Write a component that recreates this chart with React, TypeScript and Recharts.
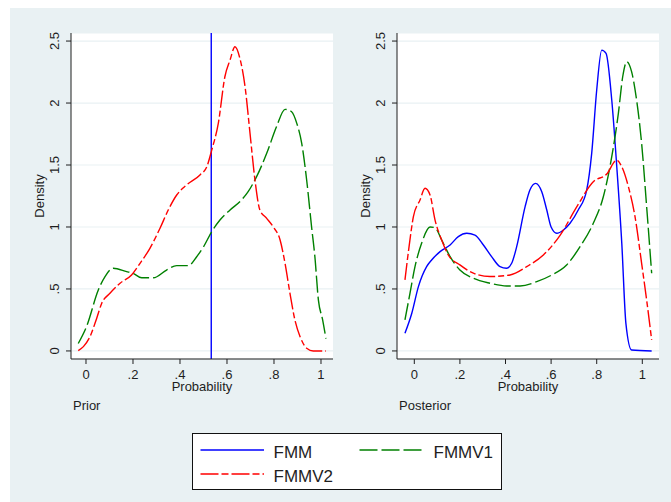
import { LineChart, Line, XAxis, YAxis, CartesianGrid, ReferenceLine } from 'recharts'

// kernel density estimates: [probability, density]
const priorFmmv1: [number, number][] = [
  [-0.033, 0.06], [0.003, 0.2], [0.052, 0.49], [0.081, 0.6], [0.116, 0.667], [0.173, 0.64],
  [0.2, 0.626], [0.237, 0.59], [0.287, 0.59], [0.343, 0.653], [0.386, 0.688], [0.435, 0.688],
  [0.471, 0.76], [0.5, 0.84], [0.535, 0.962], [0.57, 1.056], [0.613, 1.137], [0.662, 1.218],
  [0.69, 1.285], [0.726, 1.406], [0.769, 1.594], [0.811, 1.81], [0.847, 1.949], [0.875, 1.93],
  [0.897, 1.836], [0.918, 1.675], [0.939, 1.379], [0.96, 1.0], [0.974, 0.76], [0.989, 0.41],
  [1.007, 0.25], [1.021, 0.1],
]
const priorFmmv2: [number, number][] = [
  [-0.033, 0.003], [-0.011, 0.035], [0.017, 0.115], [0.045, 0.26], [0.067, 0.385], [0.102, 0.465],
  [0.145, 0.546], [0.194, 0.613], [0.23, 0.707], [0.272, 0.828], [0.315, 0.99], [0.35, 1.137],
  [0.386, 1.258], [0.428, 1.339], [0.485, 1.42], [0.514, 1.486], [0.535, 1.62], [0.563, 1.836],
  [0.591, 2.212], [0.613, 2.347], [0.634, 2.454], [0.655, 2.36], [0.677, 2.13], [0.698, 1.755],
  [0.719, 1.379], [0.74, 1.137], [0.769, 1.07], [0.797, 1.0], [0.826, 0.895], [0.847, 0.707],
  [0.868, 0.465], [0.889, 0.25], [0.911, 0.115], [0.939, 0.022], [0.967, 0], [1.021, 0],
]
const priorFmmCut = 0.533

const postFmm: [number, number][] = [
  [-0.041, 0.143], [-0.011, 0.304], [0.018, 0.519], [0.054, 0.68], [0.076, 0.734], [0.113, 0.801],
  [0.157, 0.855], [0.193, 0.922], [0.23, 0.949], [0.266, 0.935], [0.303, 0.855], [0.339, 0.761],
  [0.376, 0.68], [0.405, 0.667], [0.427, 0.707], [0.449, 0.841], [0.486, 1.164], [0.507, 1.298],
  [0.532, 1.352], [0.559, 1.285], [0.581, 1.137], [0.6, 1.0], [0.625, 0.949], [0.654, 0.976],
  [0.683, 1.03], [0.719, 1.137], [0.756, 1.298], [0.778, 1.594], [0.8, 2.105], [0.822, 2.427],
  [0.841, 2.4], [0.866, 2.024], [0.888, 1.486], [0.91, 0.868], [0.928, 0.223], [0.953, 0.008],
  [1.041, 0],
]
const postFmmv1: [number, number][] = [
  [-0.041, 0.25], [-0.019, 0.465], [0.003, 0.68], [0.032, 0.868], [0.069, 1.0], [0.091, 0.994],
  [0.12, 0.895], [0.157, 0.761], [0.2, 0.653], [0.259, 0.586], [0.332, 0.546], [0.405, 0.524],
  [0.464, 0.524], [0.537, 0.559], [0.603, 0.613], [0.668, 0.694], [0.727, 0.841], [0.785, 1.03],
  [0.829, 1.244], [0.866, 1.567], [0.895, 1.917], [0.914, 2.212], [0.932, 2.333], [0.953, 2.253],
  [0.975, 2.024], [0.997, 1.675], [1.019, 1.164], [1.041, 0.627],
]
const postFmmv2: [number, number][] = [
  [-0.041, 0.573], [-0.023, 0.841], [-0.004, 1.083], [0.025, 1.218], [0.047, 1.312], [0.069, 1.258],
  [0.091, 1.056], [0.12, 0.895], [0.149, 0.774], [0.2, 0.694], [0.259, 0.627], [0.332, 0.6],
  [0.42, 0.613], [0.493, 0.68], [0.566, 0.774], [0.64, 0.935], [0.713, 1.164], [0.785, 1.365],
  [0.844, 1.427], [0.888, 1.54], [0.91, 1.486], [0.939, 1.325], [0.968, 1.083], [0.997, 0.707],
  [1.019, 0.411], [1.041, 0.089],
]

const xTicks = [0, 0.2, 0.4, 0.6, 0.8, 1]
const yTicks = [0, 0.5, 1, 1.5, 2, 2.5]

const FONT = '"Liberation Sans", Arial, sans-serif'
const BG = '#e9f1f3'
const INK = '#1e1e1e'
const BLUE = '#0000ff'
const GREEN = '#008000'
const RED = '#ff0000'
const DASH_V1 = '17 4'
const DASH_V2 = '17 3 6 3'

const toRows = (pts: [number, number][]) => pts.map(([x, y]) => ({ x, y }))
const fmt = (v: number) => (v === 0 ? '0' : Math.abs(v) < 1 ? String(v).replace('0.', '.') : String(v))

const YTick = (p: any) => (
  <text x={p.x} y={p.y} transform={`rotate(-90 ${p.x} ${p.y})`} textAnchor="middle"
    fontSize={13} fontFamily={FONT} fill={INK}>{fmt(p.payload.value)}</text>
)
const XTick = (p: any) => (
  <text x={p.x} y={p.y} dy="0.71em" textAnchor="middle" fontSize={13} fontFamily={FONT} fill={INK}>
    {fmt(p.payload.value)}
  </text>
)

interface PanelProps {
  title: string
  left: number
  width: number
  marginLeft: number
  marginRight: number
  xDomain: [number, number]
  fmm?: [number, number][]
  fmmCut?: number
  v1: [number, number][]
  v2: [number, number][]
}

function Panel({ title, left, width, marginLeft, marginRight, xDomain, fmm, fmmCut, v1, v2 }: PanelProps) {
  return (
    <div style={{ position: 'absolute', left, top: 0 }}>
      <LineChart width={width} height={420} margin={{ top: 33, right: marginRight, bottom: 21, left: marginLeft }}>
        <CartesianGrid vertical={false} fill="#ffffff" stroke={BG} strokeWidth={1.2} />
        <XAxis type="number" dataKey="x" domain={xDomain} ticks={xTicks} allowDataOverflow height={40}
          tickSize={5} tickMargin={6} tick={<XTick />} stroke={INK}
          label={{
            content: (lp: any) => {
              const vb = lp.viewBox
              return (
                <g fontFamily={FONT} fill={INK} fontSize={13}>
                  <text x={vb.x + vb.width / 2} y={vb.y + 32} textAnchor="middle">Probability</text>
                  <text x={vb.x + 2} y={vb.y + 50.5}>{title}</text>
                </g>
              )
            },
          }} />
        <YAxis type="number" domain={[-0.065, 2.565]} ticks={yTicks} allowDataOverflow width={40}
          tickSize={5} tickMargin={7} tick={<YTick />} stroke={INK}
          label={{
            content: (lp: any) => {
              const vb = lp.viewBox
              const x = vb.x + vb.width - 27
              const y = vb.y + vb.height / 2
              return (
                <text x={x} y={y} transform={`rotate(-90 ${x} ${y})`} textAnchor="middle"
                  fontFamily={FONT} fontSize={13} fill={INK}>Density</text>
              )
            },
          }} />
        {fmmCut !== undefined && <ReferenceLine x={fmmCut} stroke={BLUE} strokeWidth={1.4} />}
        {fmm && (
          <Line data={toRows(fmm)} dataKey="y" type="monotone" stroke={BLUE} strokeWidth={1.4}
            dot={false} isAnimationActive={false} />
        )}
        <Line data={toRows(v1)} dataKey="y" type="monotone" stroke={GREEN} strokeWidth={1.4}
          strokeDasharray={DASH_V1} dot={false} isAnimationActive={false} />
        <Line data={toRows(v2)} dataKey="y" type="monotone" stroke={RED} strokeWidth={1.4}
          strokeDasharray={DASH_V2} dot={false} isAnimationActive={false} />
      </LineChart>
    </div>
  )
}

function LegendBox() {
  return (
    <svg width={311} height={58} style={{ position: 'absolute', left: 191.5, top: 432.5 }}>
      <rect x={0.5} y={0.5} width={309} height={56} fill="#ffffff" stroke="#111" strokeWidth={1} />
      <g fontFamily={FONT} fontSize={17} fill={INK}>
        <line x1={8.5} x2={72} y1={17} y2={17} stroke={BLUE} strokeWidth={1.6} />
        <text x={81.5} y={24.5}>FMM</text>
        <line x1={167.5} x2={231} y1={17} y2={17} stroke={GREEN} strokeWidth={1.6} strokeDasharray="18 4" />
        <text x={241.5} y={24.5}>FMMV1</text>
        <line x1={8.5} x2={72} y1={41} y2={41} stroke={RED} strokeWidth={1.6} strokeDasharray="18 3 7 3" />
        <text x={81.5} y={48.5}>FMMV2</text>
      </g>
    </svg>
  )
}

export default function App() {
  return (
    <div style={{ position: 'absolute', left: 0, top: 0, width: 671, height: 502, background: '#ffffff', overflow: 'hidden' }}>
      <div style={{ position: 'absolute', left: 10, top: 8, width: 661, height: 494, background: BG }} />
      <Panel title="Prior" left={0} width={340} marginLeft={31} marginRight={7}
        xDomain={[-0.0638, 1.0511]} fmmCut={priorFmmCut} v1={priorFmmv1} v2={priorFmmv2} />
      <Panel title="Posterior" left={330} width={341} marginLeft={27} marginRight={12}
        xDomain={[-0.0759, 1.0732]} fmm={postFmm} v1={postFmmv1} v2={postFmmv2} />
      <LegendBox />
    </div>
  )
}
